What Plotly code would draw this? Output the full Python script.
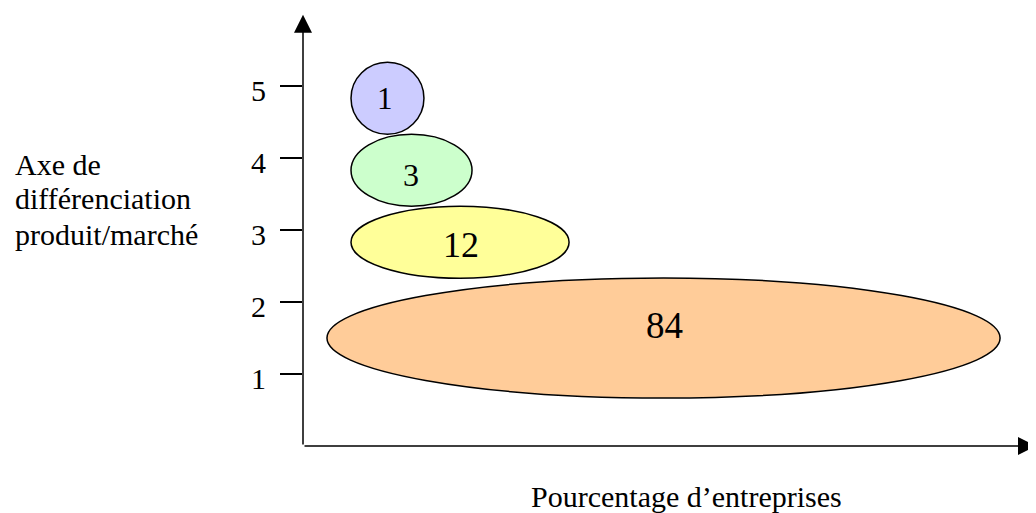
import plotly.graph_objects as go

# Data
labels = ["1", "3", "12", "84"]              # percentage of companies
x_left = [6.55, 6.55, 6.55, 3.27]            # ellipse left edge (x units 0-100)
x_right = [16.5, 23.06, 36.3, 95.1]          # ellipse right edge
y_center = [4.83, 3.83, 2.83, 1.5]           # differentiation level centre
y_half = [0.5, 0.5, 0.5, 0.833]              # half height
label_x = [11.2, 14.8, 21.6, 49.3]
label_y = [4.83, 3.76, 2.79, 1.68]
label_size = [31, 32, 36, 37]
fills = ["#CCCCFF", "#CCFFCC", "#FFFF99", "#FFCC99"]
y_ticks = [1, 2, 3, 4, 5]
y_title_lines = ["Axe de", "différenciation", "produit/marché"]
x_title = "Pourcentage d’entreprises"

FONT = "Liberation Serif, Times New Roman, serif"

# page has an 8px body margin: the figure is sized/offset to compensate
W, H = 1028, 505
ML, MT, MB = 295, 6, 67
PW = W - ML
PH = H - MT - MB

fig = go.Figure()
fig.add_trace(go.Scatter(x=[None], y=[None], mode="markers", showlegend=False, hoverinfo="skip"))

for i in range(len(labels)):
    fig.add_shape(type="circle", xref="x", yref="y",
                  x0=x_left[i], x1=x_right[i],
                  y0=y_center[i] - y_half[i], y1=y_center[i] + y_half[i],
                  fillcolor=fills[i], line=dict(color="black", width=1.5), layer="above")
    fig.add_annotation(x=label_x[i], y=label_y[i], xref="x", yref="y", text=labels[i],
                       showarrow=False, font=dict(family=FONT, size=label_size[i], color="black"))

# axis arrows
fig.add_annotation(x=0, y=5.99, ax=0, ay=0, xref="x", yref="y", axref="x", ayref="y",
                   text="", showarrow=True, arrowhead=2, arrowsize=2.4, arrowwidth=1.5,
                   arrowcolor="black")
fig.add_annotation(x=100, y=0, ax=0, ay=0, xref="x", yref="y", axref="x", ayref="y",
                   text="", showarrow=True, arrowhead=2, arrowsize=2.4, arrowwidth=1.5,
                   arrowcolor="black")

# y axis title: three left-aligned lines (baselines ~35px apart)
title_x = (13 - 8 - ML) / PW
for j, line in enumerate(y_title_lines):
    cy = 164 + 35 * j - 8          # centre of the line in figure pixels
    fig.add_annotation(x=title_x, y=(PH + MT - cy) / PH,
                       xref="paper", yref="paper", text=line,
                       showarrow=False, xanchor="left", yanchor="middle", align="left",
                       font=dict(family=FONT, size=30, color="black"))

fig.add_annotation(x=(686 - 8 - ML) / PW, y=(PH + MT - (496 - 8)) / PH,
                   xref="paper", yref="paper", text=x_title,
                   showarrow=False, xanchor="center", yanchor="middle",
                   font=dict(family=FONT, size=30, color="black"))

fig.update_layout(
    width=W, height=H,
    margin=dict(l=ML, r=0, t=MT, b=MB, pad=0),
    plot_bgcolor="white", paper_bgcolor="white",
    showlegend=False,
    xaxis=dict(range=[0, 100], visible=False, fixedrange=True),
    yaxis=dict(range=[0, 6], tickvals=y_ticks, ticktext=[str(v) for v in y_ticks],
               ticks="outside", ticklen=22, tickwidth=1.5, tickcolor="black",
               showline=False, showgrid=False, zeroline=False,
               ticklabelstandoff=8, ticklabelshift=4,
               tickfont=dict(family=FONT, size=30, color="black"), fixedrange=True),
)

fig.write_html("out.html")
